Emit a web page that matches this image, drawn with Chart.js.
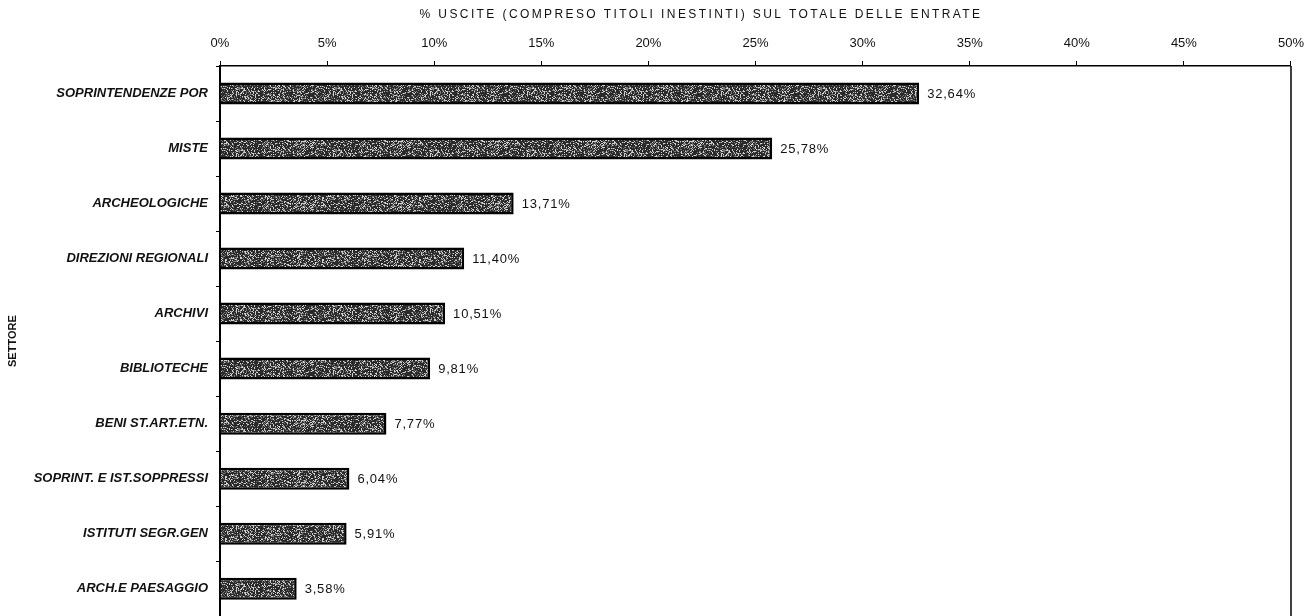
<!DOCTYPE html>
<html>
<head>
    <script src="https://cdn.jsdelivr.net/npm/chart.js@4.4.1/dist/chart.umd.min.js"></script>
    <style>
        html, body {
            margin: 0;
            padding: 0;
            background: white;
            overflow: hidden;
        }
        canvas {
            display: block;
        }
    </style>
</head>
<body>
    <canvas id="settoriChart" width="1314" height="632" style="width:1314px;height:632px"></canvas>

    <script>
        const settori = [
            'SOPRINTENDENZE POR',
            'MISTE',
            'ARCHEOLOGICHE',
            'DIREZIONI REGIONALI',
            'ARCHIVI',
            'BIBLIOTECHE',
            'BENI ST.ART.ETN.',
            'SOPRINT. E IST.SOPPRESSI',
            'ISTITUTI SEGR.GEN',
            'ARCH.E PAESAGGIO'
        ];
        const percentuali = [32.64, 25.78, 13.71, 11.40, 10.51, 9.81, 7.77, 6.04, 5.91, 3.58];
        const tickPercent = [0, 5, 10, 15, 20, 25, 30, 35, 40, 45, 50];
        const titoloX = '% USCITE (COMPRESO TITOLI INESTINTI) SUL TOTALE DELLE ENTRATE';

        const fontFamily = '"Liberation Sans", Arial, sans-serif';
        const fmt = (v) => v.toFixed(2).replace('.', ',') + '%';

        // hash intero per un retino "sporco" tipo scansione (solo stile)
        function hash(i, j) {
            let h = Math.imul(i, 374761393) + Math.imul(j, 668265263);
            h = Math.imul(h ^ (h >>> 13), 1274126177);
            h = h ^ (h >>> 16);
            return (h >>> 0) / 4294967296;
        }

        function makePattern() {
            const c = document.createElement('canvas');
            c.width = 97;
            c.height = 31;
            const g = c.getContext('2d');
            g.fillStyle = '#2a2a2a';
            g.fillRect(0, 0, c.width, c.height);
            for (let i = 0; i < c.width; i++) {
                for (let j = 0; j < c.height; j++) {
                    const r = hash(i + 1, j + 7);
                    if (r < 0.20) {
                        g.fillStyle = '#cfcfcf';
                        g.fillRect(i, j, 1, 1);
                    } else if (r < 0.36) {
                        g.fillStyle = '#777';
                        g.fillRect(i, j, 1, 1);
                    }
                }
            }
            return g.createPattern(c, 'repeat');
        }

        const valueLabels = {
            id: 'valueLabels',
            afterDatasetsDraw(chart) {
                const ctx = chart.ctx;
                const meta = chart.getDatasetMeta(0);
                ctx.save();
                ctx.font = '13px ' + fontFamily;
                ctx.letterSpacing = '0.8px';
                ctx.fillStyle = '#111';
                ctx.textAlign = 'left';
                ctx.textBaseline = 'middle';
                meta.data.forEach((bar, i) => {
                    ctx.fillText(fmt(percentuali[i]), bar.x + 8, bar.y + 1);
                });
                ctx.restore();
            }
        };

        // bordo destro + titolo asse x (caratteri larghi come nell'originale)
        const extras = {
            id: 'extras',
            afterDraw(chart) {
                const a = chart.chartArea;
                const ctx = chart.ctx;
                ctx.save();
                ctx.strokeStyle = '#000';
                ctx.lineWidth = 1.5;
                ctx.beginPath();
                ctx.moveTo(a.right, a.top);
                ctx.lineTo(a.right, a.bottom);
                ctx.stroke();

                ctx.font = '12px ' + fontFamily;
                ctx.letterSpacing = '2.4px';
                ctx.fillStyle = '#111';
                ctx.textAlign = 'center';
                ctx.textBaseline = 'middle';
                ctx.fillText(titoloX, 701, 15);
                ctx.restore();
            }
        };

        const ctx = document.getElementById('settoriChart').getContext('2d');

        new Chart(ctx, {
            type: 'bar',
            data: {
                labels: settori,
                datasets: [{
                    data: percentuali,
                    backgroundColor: makePattern(),
                    borderColor: '#000',
                    borderWidth: 2.5,
                    barPercentage: 0.4,
                    categoryPercentage: 1
                }]
            },
            options: {
                indexAxis: 'y',
                responsive: false,
                animation: false,
                layout: {
                    padding: { left: 0, right: 17, top: 0, bottom: 11 }
                },
                plugins: {
                    legend: { display: false },
                    tooltip: { enabled: false }
                },
                scales: {
                    x: {
                        position: 'top',
                        min: 0,
                        max: 50,
                        afterBuildTicks: (scale) => {
                            scale.ticks = tickPercent.map(v => ({ value: v }));
                        },
                        afterFit: (scale) => { scale.height = 66; },
                        ticks: {
                            callback: (v) => v + '%',
                            color: '#111',
                            padding: 10,
                            maxRotation: 0,
                            font: { family: fontFamily, size: 13 }
                        },
                        grid: {
                            drawOnChartArea: false,
                            drawTicks: true,
                            tickLength: 5,
                            color: '#000'
                        },
                        border: { display: true, color: '#000', width: 1.5 }
                    },
                    y: {
                        afterFit: (scale) => { scale.width = 220; },
                        ticks: {
                            color: '#111',
                            padding: 8,
                            font: { family: fontFamily, size: 13, style: 'italic', weight: 'bold' }
                        },
                        grid: {
                            drawOnChartArea: false,
                            drawTicks: true,
                            offset: true,
                            tickLength: 4,
                            color: '#000'
                        },
                        border: { display: true, color: '#000', width: 2 },
                        title: {
                            display: true,
                            text: 'SETTORE',
                            color: '#111',
                            padding: { top: 6, bottom: 0 },
                            font: { family: fontFamily, size: 11, weight: 'bold' }
                        }
                    }
                }
            },
            plugins: [valueLabels, extras]
        });
    </script>
</body>
</html>
